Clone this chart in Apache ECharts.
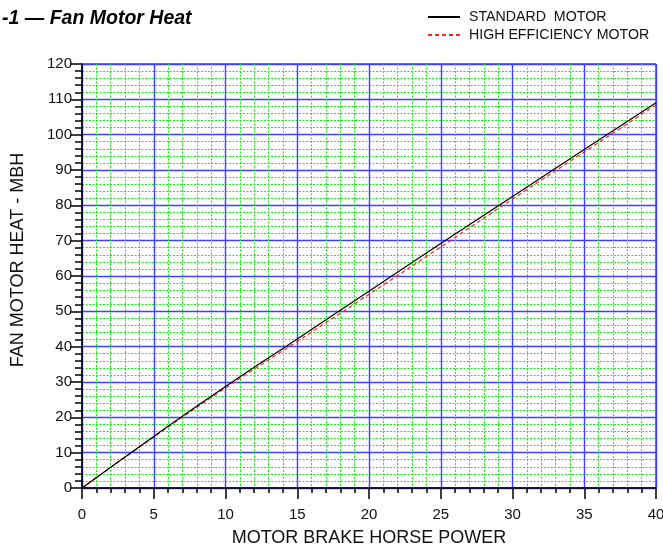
<!DOCTYPE html>
<html>
<head>
<meta charset="utf-8">
<script src="https://cdn.jsdelivr.net/npm/echarts@6/dist/echarts.min.js"></script>
<style>
  html, body { margin: 0; padding: 0; background: #fff; }
  #chart { width: 663px; height: 552px; }
</style>
</head>
<body>
<div id="chart"></div>
<script>
// horsepower steps
const hp = [0, 5, 10, 15, 20, 25, 30, 35, 40]
const standardMotor = [0, 14.6, 28.7, 42.2, 55.7, 69.2, 82.5, 95.8, 109]
const highEffMotor = [0, 14.4, 28.3, 41.5, 54.8, 68.2, 81.8, 95.1, 108.4]

const chart = echarts.init(document.getElementById('chart'))
const font = '"Liberation Sans", Arial, sans-serif'

chart.setOption({
  animation: false,
  textStyle: { fontFamily: font },
  title: {
    text: '-1 \u2014 Fan Motor Heat',
    left: -3,
    top: 4,
    textStyle: { fontSize: 19.5, fontWeight: 'bold', fontStyle: 'italic', color: '#000', fontFamily: font },
  },
  legend: {
    orient: 'vertical',
    left: 422,
    top: 5,
    itemWidth: 32,
    itemHeight: 10,
    itemGap: 4,
    itemStyle: { opacity: 0 },
    textStyle: { fontSize: 14.2, color: '#111', fontFamily: font, padding: [0, 0, 0, 4] },
    data: ['STANDARD  MOTOR', 'HIGH EFFICIENCY MOTOR'],
  },
  grid: {
    left: 82,
    right: 7,
    top: 64,
    bottom: 64,
    show: true,
    borderColor: '#000',
    borderWidth: 1,
    containLabel: false,
    outerBoundsMode: 'none',
  },
  xAxis: {
    type: 'value',
    min: 0,
    max: 40,
    interval: 5,
    name: 'MOTOR BRAKE HORSE POWER',
    nameLocation: 'middle',
    nameGap: 41,
    nameTextStyle: { fontSize: 18, color: '#111' },
    axisLine: { lineStyle: { color: '#000', width: 1.5 } },
    axisTick: { length: 11, lineStyle: { color: '#000', width: 1.5 } },
    minorTick: { show: true, splitNumber: 5, length: 5, lineStyle: { color: '#000', width: 1.5 } },
    axisLabel: { fontSize: 15, color: '#111', margin: 19 },
    splitLine: { lineStyle: { color: '#4040ff', width: 1.4 } },
    minorSplitLine: { show: true, lineStyle: { color: '#14f014', width: 1, type: [2, 1.5] } },
  },
  yAxis: {
    type: 'value',
    min: 0,
    max: 120,
    interval: 10,
    name: 'FAN MOTOR HEAT - MBH',
    nameLocation: 'middle',
    nameGap: 55,
    nameTextStyle: { fontSize: 18, color: '#111', padding: [0, 0, 0, 32] },
    axisLine: { lineStyle: { color: '#000', width: 1.5 } },
    axisTick: { length: 12, lineStyle: { color: '#000', width: 1.5 } },
    minorTick: { show: true, splitNumber: 5, length: 7, lineStyle: { color: '#000', width: 1.5 } },
    axisLabel: { fontSize: 15, color: '#111', margin: 10 },
    splitLine: { lineStyle: { color: '#4040ff', width: 1.4 } },
    minorSplitLine: { show: true, lineStyle: { color: '#14f014', width: 1, type: [2, 1.5] } },
  },
  series: [
    {
      name: 'STANDARD  MOTOR',
      type: 'line',
      data: hp.map((h, i) => [h, standardMotor[i]]),
      smooth: true,
      symbol: 'none',
      lineStyle: { color: '#000', width: 1.2 },
      itemStyle: { color: '#000' },
      z: 3,
    },
    {
      name: 'HIGH EFFICIENCY MOTOR',
      type: 'line',
      data: hp.map((h, i) => [h, highEffMotor[i]]),
      smooth: true,
      symbol: 'none',
      lineStyle: { color: '#ff2222', width: 1.2, type: [4, 3] },
      itemStyle: { color: '#ff2222' },
      z: 2,
    },
  ],
})
</script>
</body>
</html>
